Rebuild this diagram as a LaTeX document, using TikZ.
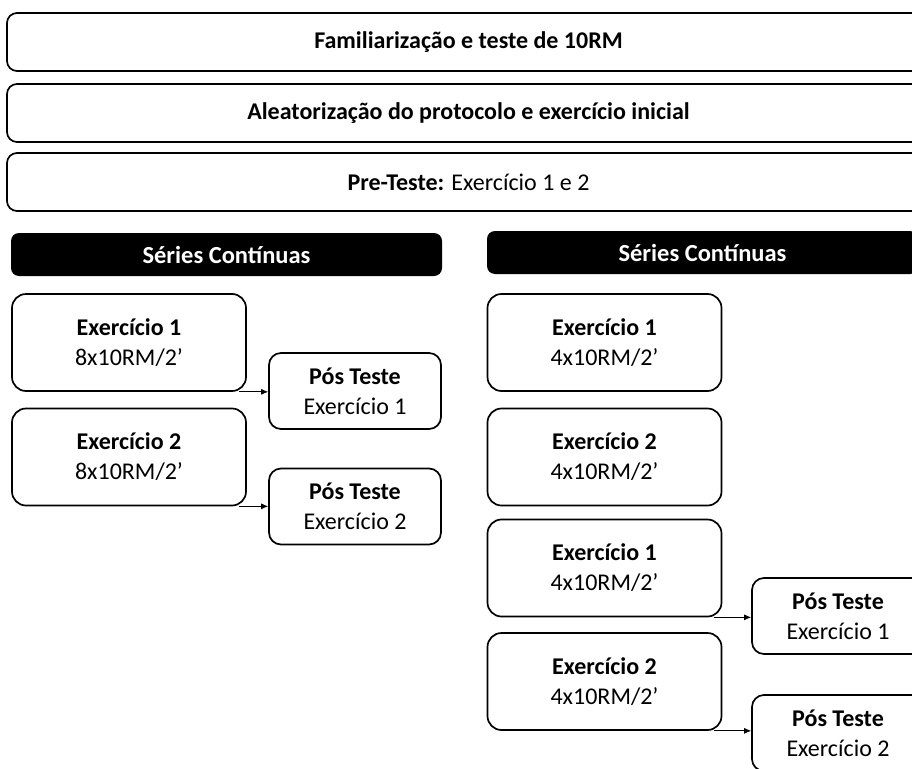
\documentclass[tikz,border=0pt]{standalone}
\usepackage{fontspec}
\setmainfont{Carlito}
\usetikzlibrary{arrows.meta,positioning}
\tikzset{
  topbox/.style={draw,rectangle,rounded corners=10pt,line width=1.7pt,minimum width=923pt,minimum height=58pt,align=center,font=\fontsize{24}{29}\selectfont},
  hdrbox/.style={rectangle,rounded corners=8pt,fill=black,text=white,minimum width=431pt,minimum height=43pt,font=\fontsize{24.5}{29}\selectfont\bfseries},
  exbox/.style={draw,rectangle,rounded corners=14pt,line width=1.7pt,minimum width=234pt,minimum height=97pt,align=center,font=\fontsize{24}{30}\selectfont},
  posbox/.style={draw,rectangle,rounded corners=12pt,line width=1.7pt,minimum width=172pt,minimum height=76pt,align=center,font=\fontsize{24}{30}\selectfont},
  arr/.style={-{Latex[length=7pt,width=6pt]},line width=0.8pt}
}

\begin{document}
\begin{tikzpicture}[x=1pt,y=-1pt]
  \useasboundingbox (0,0) rectangle (912,768);
  \clip (0,0) rectangle (912,768);

  % etapas iniciais
  \node[topbox] (fam) at (468.5,42) {\textbf{Familiarização e teste de 10RM}};
  \node[topbox] (ale) at (468.5,113) {\textbf{Aleatorização do protocolo e exercício inicial}};
  \node[topbox] (pre) at (468.5,182) {\textbf{Pre-Teste:} Exercício 1 e 2};

  % bloco da esquerda
  \node[hdrbox] (hdL) at (226.5,254.5) {Séries Contínuas};
  \node[exbox] (le1) at (129,342.5) {\textbf{Exercício 1}\\8x10RM/2’};
  \node[exbox] (le2) at (129,457) {\textbf{Exercício 2}\\8x10RM/2’};
  \node[posbox] (lp1) at (355,391) {\textbf{Pós Teste}\\Exercício 1};
  \node[posbox] (lp2) at (355,506.5) {\textbf{Pós Teste}\\Exercício 2};

  % bloco da direita
  \node[hdrbox] (hdR) at (702.5,252.5) {Séries Contínuas};
  \node[exbox] (re1) at (604.5,342.5) {\textbf{Exercício 1}\\4x10RM/2’};
  \node[exbox] (re2) at (604.5,457) {\textbf{Exercício 2}\\4x10RM/2’};
  \node[exbox] (re3) at (604.5,568) {\textbf{Exercício 1}\\4x10RM/2’};
  \node[exbox] (re4) at (604.5,681.5) {\textbf{Exercício 2}\\4x10RM/2’};
  \node[posbox] (rp1) at (838,616) {\textbf{Pós Teste}\\Exercício 1};
  \node[posbox] (rp2) at (838,733) {\textbf{Pós Teste}\\Exercício 2};

  \draw[arr] ([xshift=-8pt]le1.south east) -- (lp1.west |- le1.south);
  \draw[arr] ([xshift=-8pt]le2.south east) -- (lp2.west |- le2.south);
  \draw[arr] ([xshift=-8pt]re3.south east) -- (rp1.west |- re3.south);
  \draw[arr] ([xshift=-8pt]re4.south east) -- (rp2.west |- re4.south);
\end{tikzpicture}
\end{document}
